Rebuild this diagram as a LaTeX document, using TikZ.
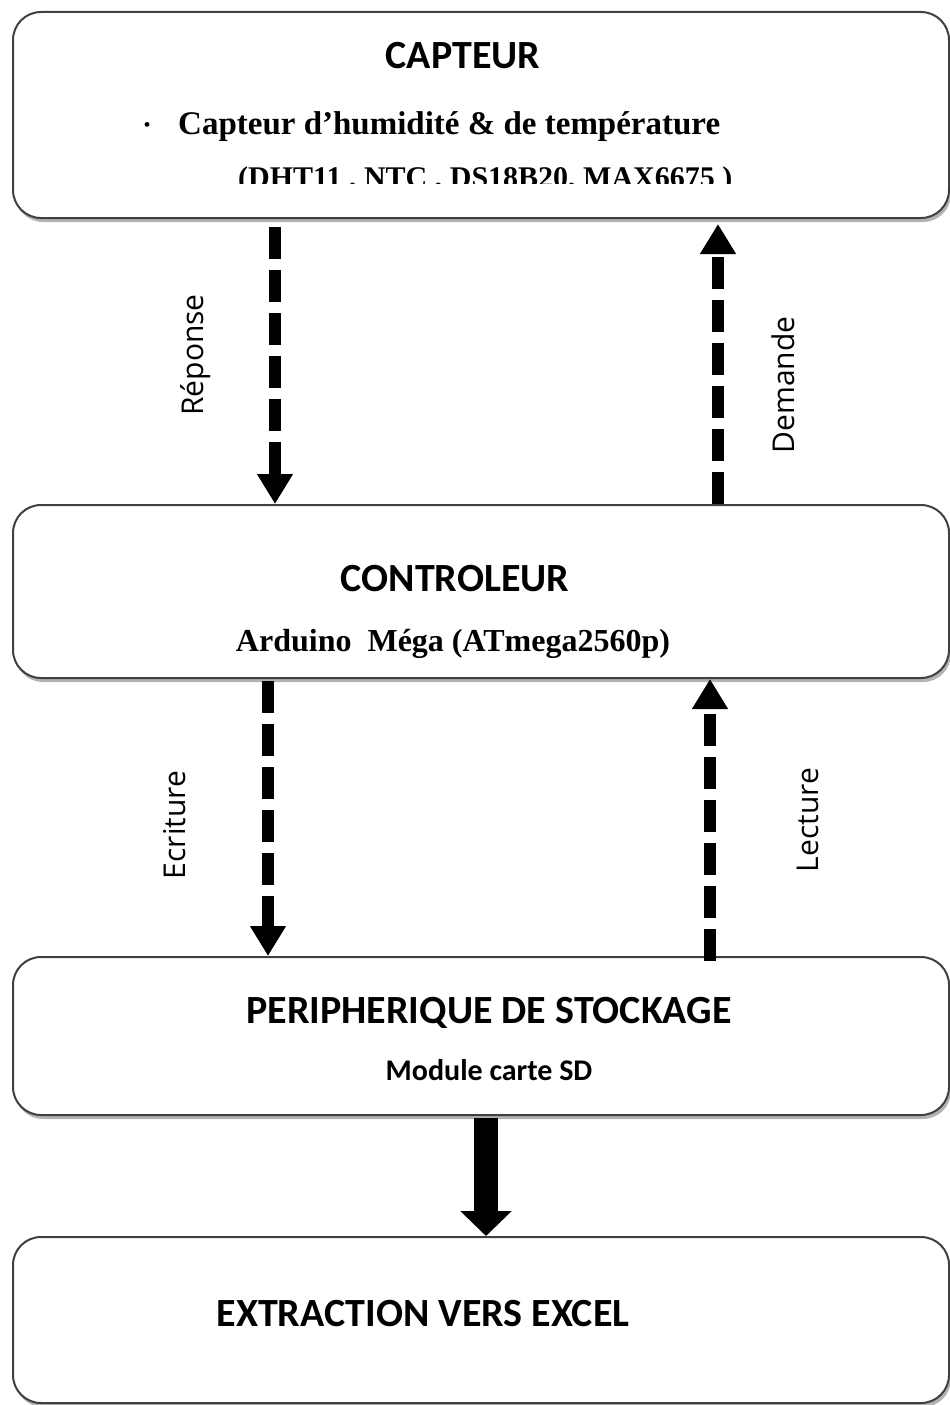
\documentclass[tikz,border=0pt]{standalone}
\usepackage{fontspec}
\usetikzlibrary{positioning,arrows.meta,shadows}
\newfontfamily\calibri{Carlito}
\newfontfamily\timesfont{Liberation Serif}
\newfontfamily\opensans{Open Sans}

\begin{document}
\begin{tikzpicture}[
    x=1pt, y=-1pt,
    bloc/.style={rectangle, draw=black!75, line width=2pt, fill=white, rounded corners=28pt, minimum width=936pt, drop shadow={shadow xshift=2pt, shadow yshift=-4pt, opacity=0.6}},
    titre/.style={font=\calibri\bfseries\fontsize{40}{48}\selectfont, inner sep=0pt, anchor=base},
    sous_titre/.style={font=\calibri\bfseries\fontsize{30}{36}\selectfont, inner sep=0pt, anchor=base},
    detail/.style={font=\timesfont\bfseries\fontsize{30}{36}\selectfont, inner sep=0pt},
    etiquette/.style={font=\opensans\fontsize{30}{36}\selectfont, rotate=90, inner sep=0pt},
    fleche_tiretee/.style={line width=12pt, dash pattern=on 32pt off 11pt, -{Triangle[width=34pt,length=30pt]}},
    fleche_pleine/.style={line width=24pt, -{Triangle[width=50pt,length=25pt]}}
]
\useasboundingbox (0,0) rectangle (950,1405);

% Blocks
\node[bloc, minimum height=206pt] (capteur) at (481,115) {};
\node[bloc, minimum height=173pt] (controleur) at (481,591.5) {};
\node[bloc, minimum height=158pt] (stockage) at (481,1036) {};
\node[bloc, minimum height=166pt] (extraction) at (481,1320) {};

% Sensor block text
\node[titre] (capteur_titre) at (463,68) {CAPTEUR};
\node[detail, font=\timesfont\fontsize{20}{24}\selectfont] (capteur_puce) at (147,127) {\textbullet};
\node[detail, anchor=base west, font=\timesfont\bfseries\fontsize{33}{40}\selectfont] (capteur_type) at (178,134) {Capteur d’humidité \& de température};
\begin{scope}
  \clip (0,150) rectangle (950,183);
  \node[detail, anchor=base west] (capteur_refs) at (238,187) {(DHT11 , NTC , DS18B20, MAX6675 )};
\end{scope}

% Controller block text
\node[titre] (controleur_titre) at (455,591) {CONTROLEUR};
\node[detail, anchor=base, font=\timesfont\bfseries\fontsize{32}{38}\selectfont] (controleur_carte) at (453,651) {Arduino\ \ Méga (ATmega2560p)};

% Storage block text
\node[titre] (stockage_titre) at (489,1023) {PERIPHERIQUE DE STOCKAGE};
\node[sous_titre] (stockage_module) at (489,1080) {Module carte SD};

% Export block text
\node[titre] (extraction_titre) at (423,1326) {EXTRACTION VERS EXCEL};

% Arrow columns
\coordinate (reponse_x) at (275,0);
\coordinate (demande_x) at (718,0);
\coordinate (ecriture_x) at (268,0);
\coordinate (lecture_x) at (710,0);
\coordinate (export_x) at (486,0);

% Sensor <-> controller
\draw[fleche_tiretee] ([yshift=-8pt]capteur.south -| reponse_x) -- (controleur.north -| reponse_x);
\draw[fleche_tiretee] (controleur.north -| demande_x) -- ([yshift=-5pt]capteur.south -| demande_x);
\node[etiquette] (reponse) at (196,355) {Réponse};
\node[etiquette] (demande) at (783,385) {Demande};

% Controller <-> storage
\draw[fleche_tiretee] ([yshift=-2pt]controleur.south -| ecriture_x) -- (stockage.north -| ecriture_x);
\draw[fleche_tiretee] ([yshift=-5pt]stockage.north -| lecture_x) -- (controleur.south -| lecture_x);
\node[etiquette] (ecriture) at (175,825) {Ecriture};
\node[etiquette] (lecture) at (808,820) {Lecture};

% Storage -> export
\draw[fleche_pleine] ([yshift=-2pt]stockage.south -| export_x) -- (extraction.north -| export_x);

\end{tikzpicture}
\end{document}
